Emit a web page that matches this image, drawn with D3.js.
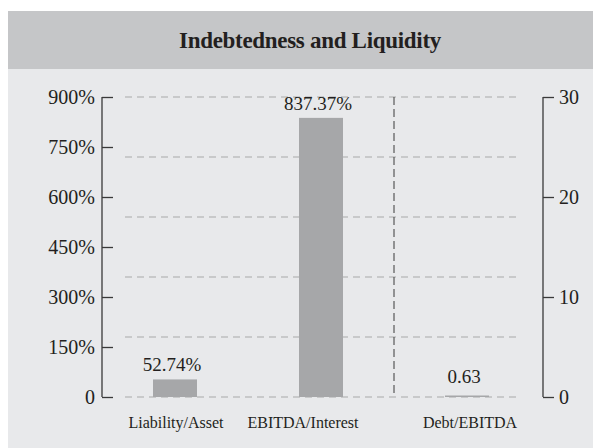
<!DOCTYPE html>
<html>
<head>
<meta charset="utf-8">
<script src="https://cdn.jsdelivr.net/npm/d3@7"></script>
<style>
  body { margin: 0; background: #fff; }
  svg { display: block; font-family: "Liberation Serif", "Times New Roman", serif; }
</style>
</head>
<body>
<svg id="chart" width="593" height="448"></svg>
<script>
// chart data
const categories = ['Liability/Asset', 'EBITDA/Interest', 'Debt/EBITDA'];
const barValues = [52.74, 837.37, 0.63];
const barLabels = ['52.74%', '837.37%', '0.63'];
const barAxis = ['left', 'left', 'right']; // Debt/EBITDA read against the right axis
const leftTicks = [0, 150, 300, 450, 600, 750, 900];
const rightTicks = [0, 10, 20, 30];
const gridValues = [0, 6, 12, 18, 24, 30];

const serif = '"Liberation Serif", "Times New Roman", serif';
const svg = d3.select('#chart');

// panel background + title band
svg.append('rect').attr('x', 8).attr('y', 11).attr('width', 585).attr('height', 437).attr('fill', '#e8e9eb');
svg.append('rect').attr('x', 8).attr('y', 11).attr('width', 585).attr('height', 58).attr('fill', '#c5c6c8');
svg.append('text')
  .attr('x', 310).attr('y', 48)
  .attr('text-anchor', 'middle')
  .attr('font-family', serif)
  .attr('font-size', 23).attr('font-weight', 'bold')
  .attr('letter-spacing', -0.3)
  .attr('fill', '#231f20')
  .text('Indebtedness and Liquidity');

// scales
const yLeft = d3.scaleLinear().domain([0, 900]).range([397, 97]);
const yRight = d3.scaleLinear().domain([0, 30]).range([397, 97]);
const x = d3.scalePoint().domain(categories).range([102, 540]).padding(0.5);
const barWidth = 44;

// dashed gridlines
svg.append('g').selectAll('line')
  .data(gridValues)
  .join('line')
  .attr('x1', 125).attr('x2', 519)
  .attr('y1', d => yRight(d)).attr('y2', d => yRight(d))
  .attr('stroke', '#bdbec0').attr('stroke-width', 1.3)
  .attr('stroke-dasharray', '7,5');

// separator between percent and ratio groups
const sepX = (x(categories[1]) + x(categories[2])) / 2;
svg.append('line')
  .attr('x1', sepX).attr('x2', sepX)
  .attr('y1', yLeft(900)).attr('y2', yLeft(0))
  .attr('stroke', '#3a3a3a').attr('stroke-width', 1)
  .attr('stroke-dasharray', '8,4');

// bars
const bars = categories.map((c, i) => ({ cat: c, value: barValues[i], label: barLabels[i], axis: barAxis[i] }));
svg.append('g').selectAll('rect')
  .data(bars)
  .join('rect')
  .attr('x', d => x(d.cat) - barWidth / 2)
  .attr('width', barWidth)
  .attr('y', d => Math.min(yLeft(d.value), yLeft(0) - 1.5))
  .attr('height', d => Math.max(yLeft(0) - yLeft(d.value), 1.5))
  .attr('fill', '#a6a7a9');

// value labels
svg.append('g').selectAll('text')
  .data(bars)
  .join('text')
  .attr('x', d => x(d.cat) - 3)
  .attr('y', d => (d.axis === 'left' ? yLeft(d.value) : yRight(d.value)) - 8)
  .attr('text-anchor', 'middle')
  .attr('font-family', serif)
  .attr('font-size', 19)
  .attr('fill', '#231f20')
  .text(d => d.label);

// category labels
const labelShift = [1, -18, 3];
svg.append('g').selectAll('text')
  .data(categories)
  .join('text')
  .attr('x', (d, i) => x(d) + labelShift[i])
  .attr('y', 428)
  .attr('text-anchor', 'middle')
  .attr('font-family', serif)
  .attr('font-size', 16)
  .attr('fill', '#231f20')
  .text(d => d);

// left axis
const leftAxis = svg.append('g')
  .attr('transform', 'translate(102,0)')
  .call(d3.axisRight(yLeft).tickValues(leftTicks).tickSize(11).tickFormat(d => d === 0 ? '0' : d + '%'));
leftAxis.select('.domain').attr('d', 'M0,' + yLeft(0) + 'V' + yLeft(900));
leftAxis.selectAll('.tick text')
  .attr('x', -7).attr('text-anchor', 'end');

// right axis
const rightAxis = svg.append('g')
  .attr('transform', 'translate(543,0)')
  .call(d3.axisRight(yRight).tickValues(rightTicks).tickSize(11));
rightAxis.select('.domain').attr('d', 'M0,' + yRight(0) + 'V' + yRight(30));
rightAxis.selectAll('.tick text').attr('x', 16);

[leftAxis, rightAxis].forEach(ax => {
  ax.attr('font-family', serif).attr('font-size', 20);
  ax.selectAll('.tick text').attr('fill', '#231f20');
  ax.selectAll('.domain, .tick line').attr('stroke', '#3a3a3a').attr('stroke-width', 1.3);
});
</script>
</body>
</html>
